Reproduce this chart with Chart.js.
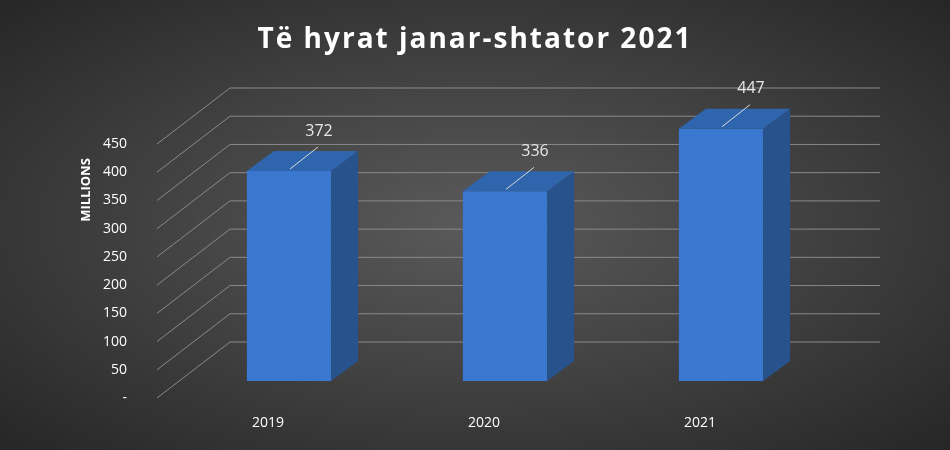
<!DOCTYPE html>
<html><head><meta charset="utf-8">
<script src="https://cdn.jsdelivr.net/npm/chart.js"></script>
<style>
html,body{margin:0;padding:0;}
body{width:950px;height:450px;background:radial-gradient(ellipse at 50% 50%,#5a5a5a 0%,#3e3e3e 55%,#262626 100%);}
#wrap{width:950px;height:450px;position:relative;}
</style></head><body>
<div id="wrap"><canvas id="c" width="950" height="450"></canvas></div>
<script>
const categories = ['2019','2020','2021'];
const values = [372,336,447];
const tickValues = [0,50,100,150,200,250,300,350,400,450];
const tickLabels = ['-','50','100','150','200','250','300','350','400','450'];
const titleText = 'Të hyrat janar-shtator 2021';
const axisTitle = 'MILLIONS';

const DX = 27, DY = -20;
const deco = {
  id:'deco',
  beforeDatasetsDraw(chart){
    const ctx = chart.ctx, y = chart.scales.y;
    ctx.save();
    ctx.strokeStyle = '#8a8a8a'; ctx.lineWidth = 1;
    ctx.fillStyle = '#ffffff'; ctx.font = '14px "Open Sans", sans-serif';
    ctx.textAlign = 'right'; ctx.textBaseline = 'middle';
    tickValues.forEach((v,i)=>{
      const p = y.getPixelForValue(v) + 17;
      ctx.beginPath(); ctx.moveTo(157,p); ctx.lineTo(230,p-56); ctx.lineTo(880,p-56); ctx.stroke();
      ctx.fillText(tickLabels[i], 127, p);
    });
    ctx.save();
    ctx.translate(86,190); ctx.rotate(-Math.PI/2);
    ctx.textAlign='center'; ctx.font='bold 13px "Open Sans", sans-serif';
    ctx.fillText(axisTitle,0,0);
    ctx.restore();
    ctx.textAlign='center'; ctx.font='bold 28px "Open Sans", sans-serif';
    ctx.letterSpacing='2px';
    ctx.fillText(titleText, 475, 40);
    ctx.restore();
  },
  afterDatasetsDraw(chart){
    const ctx = chart.ctx;
    const meta = chart.getDatasetMeta(0);
    ctx.save();
    meta.data.forEach((b,i)=>{
      const L = b.x - b.width/2, R = b.x + b.width/2, T = b.y, B = b.base;
      ctx.fillStyle = '#28528c';
      ctx.beginPath(); ctx.moveTo(R,T); ctx.lineTo(R+DX,T+DY); ctx.lineTo(R+DX,B+DY); ctx.lineTo(R,B); ctx.closePath(); ctx.fill();
      ctx.fillStyle = '#2f65ad';
      ctx.beginPath(); ctx.moveTo(L,T); ctx.lineTo(L+DX,T+DY); ctx.lineTo(R+DX,T+DY); ctx.lineTo(R,T); ctx.closePath(); ctx.fill();
      ctx.strokeStyle='#d8d8d8'; ctx.lineWidth=1;
      ctx.beginPath(); ctx.moveTo(b.x+1,T-2); ctx.lineTo(b.x+29,T-24); ctx.stroke();
      ctx.fillStyle='#e8e8e8'; ctx.font='16px "Open Sans", sans-serif';
      ctx.textAlign='center'; ctx.textBaseline='middle';
      ctx.fillText(String(values[i]), b.x+30, T-40);
      ctx.fillStyle='#ffffff'; ctx.font='14px "Open Sans", sans-serif';
      ctx.fillText(categories[i], b.x-21, 423);
    });
    ctx.restore();
  }
};

new Chart(document.getElementById('c'),{
  type:'bar',
  data:{labels:categories,datasets:[{data:values,backgroundColor:'#3a77cf',borderWidth:0,barPercentage:0.39,categoryPercentage:1}]},
  options:{
    responsive:false,animation:false,
    layout:{padding:{left:181,right:121,top:127,bottom:69}},
    plugins:{legend:{display:false},title:{display:false},tooltip:{enabled:false}},
    scales:{
      x:{display:false},
      y:{display:false,min:0,max:450}
    }
  },
  plugins:[deco]
});
</script>
</body></html>
